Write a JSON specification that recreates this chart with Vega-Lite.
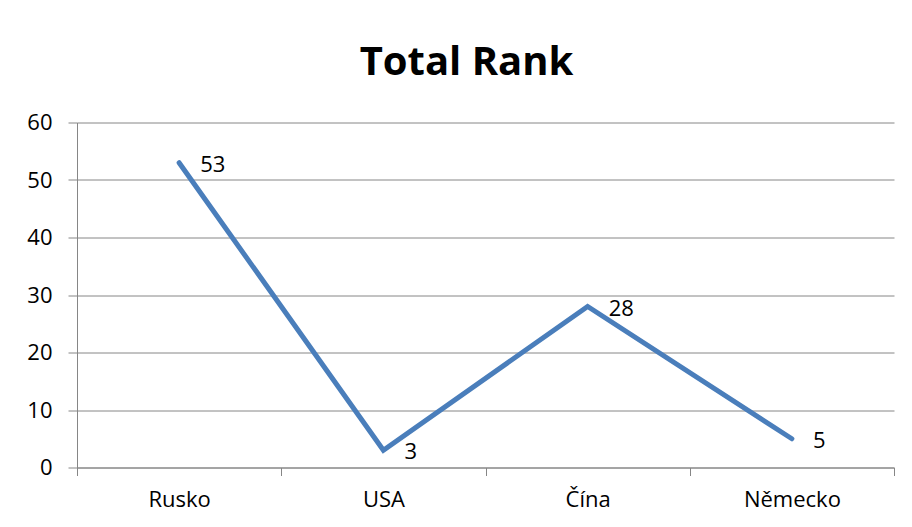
{
  "$schema": "https://vega.github.io/schema/vega-lite/v6.json",
  "autosize": "none",
  "width": 817,
  "height": 345,
  "padding": {"left": 77, "top": 122.5, "right": 18, "bottom": 59.5},
  "background": "white",
  "title": {
    "text": "Total Rank",
    "font": "Open Sans",
    "fontSize": 40,
    "fontWeight": "bold",
    "color": "#000000",
    "anchor": "middle",
    "frame": "group",
    "dx": -19,
    "baseline": "alphabetic",
    "offset": -3
  },
  "data": {
    "values": [
      {"country": "Rusko", "rank": 53},
      {"country": "USA", "rank": 3},
      {"country": "Čína", "rank": 28},
      {"country": "Německo", "rank": 5}
    ]
  },
  "config": {
    "view": {"stroke": null},
    "axis": {
      "labelFont": "Open Sans",
      "labelFontSize": 22,
      "labelColor": "#000000",
      "domainColor": "#868686",
      "tickColor": "#868686",
      "gridColor": "#868686",
      "domainWidth": 1,
      "tickWidth": 1,
      "gridWidth": 1,
      "title": null
    }
  },
  "encoding": {
    "x": {
      "field": "country",
      "type": "nominal",
      "sort": null,
      "scale": {"type": "band", "paddingInner": 0, "paddingOuter": 0},
      "axis": {"labelAngle": 0, "tickBand": "extent", "tickSize": 8, "labelPadding": 14, "grid": false}
    },
    "y": {
      "field": "rank",
      "type": "quantitative",
      "scale": {"domain": [0, 60], "nice": false},
      "axis": {"values": [0, 10, 20, 30, 40, 50, 60], "tickSize": 9, "labelPadding": 16, "grid": true}
    }
  },
  "layer": [
    {
      "mark": {"type": "line", "color": "#4A7EBB", "strokeWidth": 5, "strokeCap": "round", "strokeJoin": "miter"}
    },
    {
      "mark": {"type": "text", "align": "left", "baseline": "middle", "dx": 21, "dy": 2, "font": "Open Sans", "fontSize": 22, "color": "#000000"},
      "encoding": {"text": {"field": "rank", "type": "quantitative"}}
    }
  ]
}
